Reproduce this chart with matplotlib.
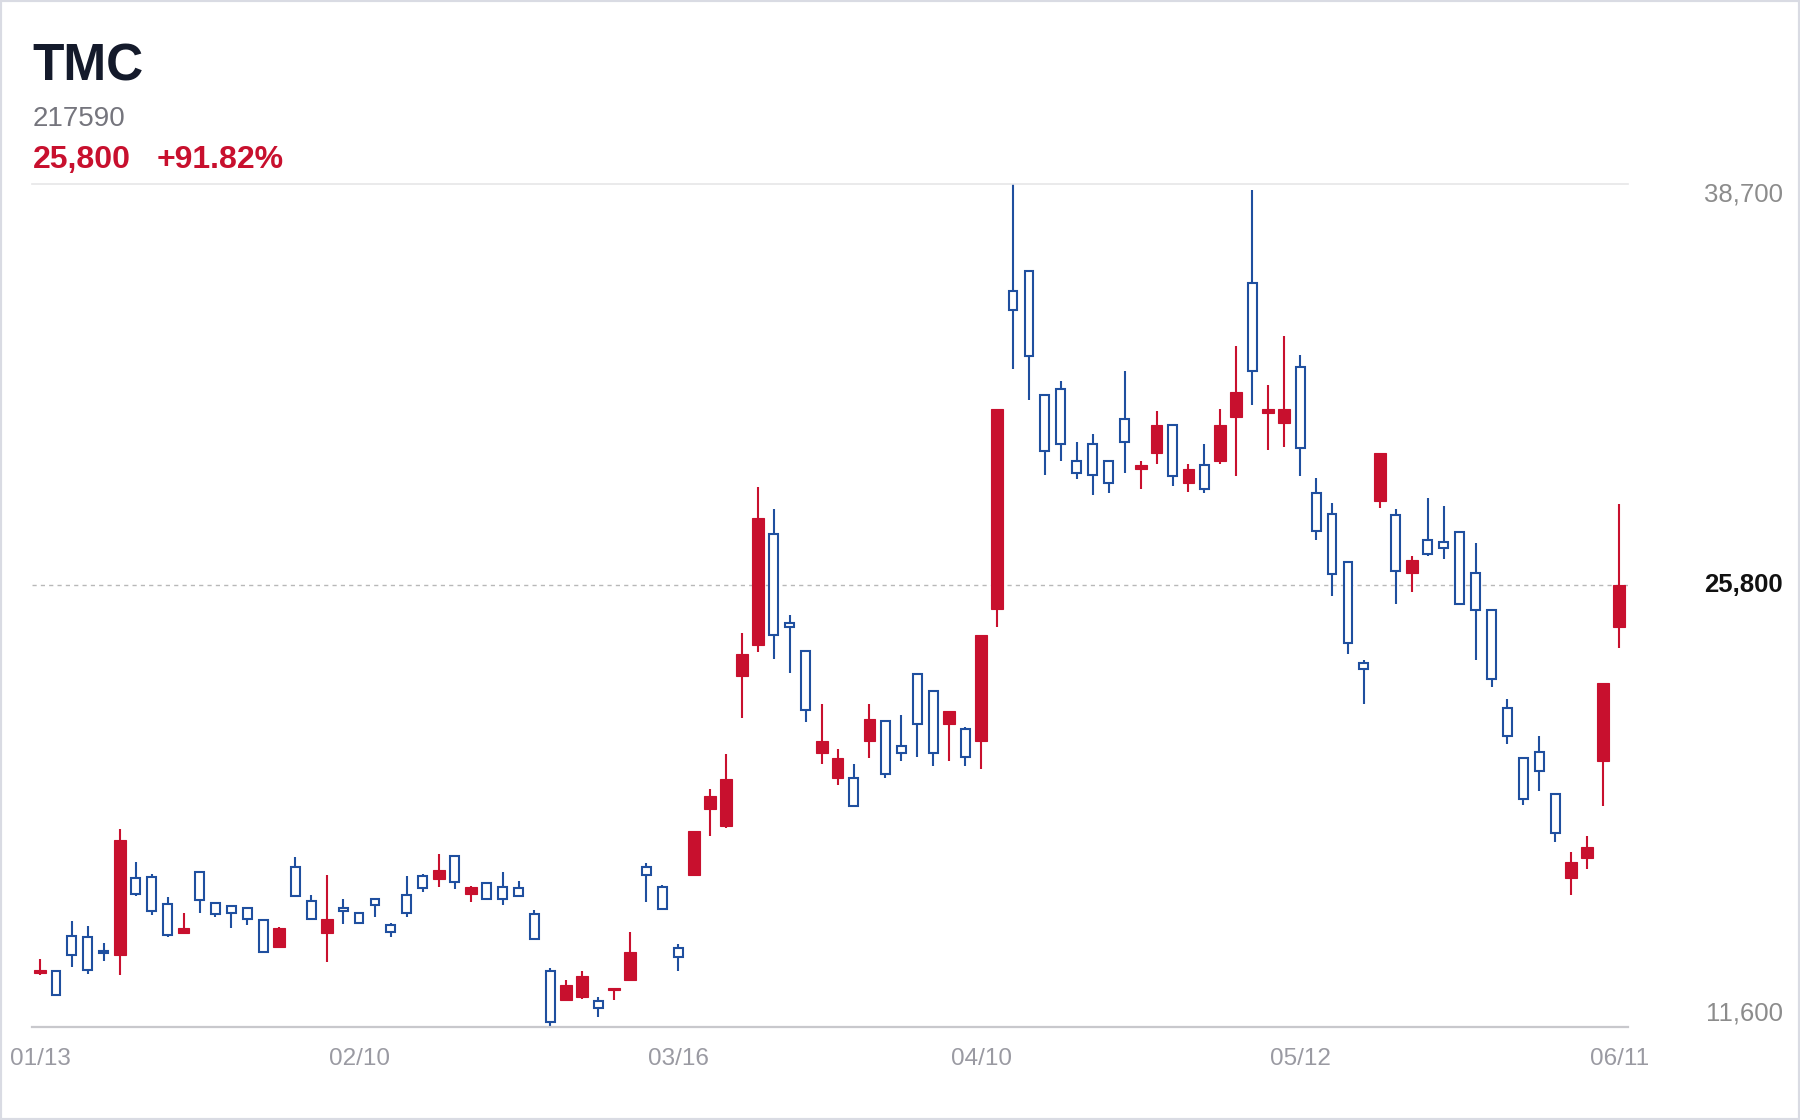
"""Daily candlestick chart for TMC (217590)."""
import matplotlib
matplotlib.use("Agg")
import matplotlib.pyplot as plt
from matplotlib.patches import Rectangle

plt.rcParams["font.family"] = ["Liberation Sans", "DejaVu Sans"]

name = "TMC"
code = "217590"
last_price = "25,800"
change_pct = "+91.82%"

tick_index = [0, 20, 40, 59, 79, 99]
tick_labels = ["01/13", "02/10", "03/16", "04/10", "05/12", "06/11"]

y_min, y_max, y_last = 11600, 38700, 25800

opens = [
    13350, 13420, 14540, 14500, 14070, 13930, 16410, 16420, 15550, 14630,
    16580, 15610, 15490, 15430, 15040, 14200, 16740, 15670, 14630, 15430,
    15270, 15720, 14900, 15860, 16450, 16360, 17110, 15880, 16240, 16110,
    16080, 15240, 13430, 12490, 12570, 12450, 12790, 13130, 16760, 16120,
    14150, 16500, 18610, 18070, 22900, 23900, 27450, 24600, 23700, 20400,
    19600, 19600, 20800, 21450, 20650, 22950, 22400, 21350, 21200, 20800,
    25050, 35250, 35900, 31900, 32100, 29800, 30350, 29800, 31150, 29550,
    30050, 30950, 29100, 29650, 29800, 31200, 35500, 31350, 31000, 32800,
    28750, 28100, 26550, 23300, 28500, 28050, 26200, 27250, 27200, 27500,
    26200, 25000, 21850, 20250, 20450, 19100, 16400, 17050, 20150, 24450,
]
highs = [
    13800, 13420, 15030, 14870, 14310, 17970, 16900, 16540, 15790, 15270,
    16580, 15610, 15490, 15470, 15080, 14820, 17090, 15860, 16500, 15730,
    15270, 15720, 14970, 16450, 16540, 17180, 17150, 16150, 16270, 16590,
    16290, 15380, 13510, 13130, 13430, 12580, 12870, 14660, 16870, 16170,
    14270, 17920, 19270, 20380, 24280, 28950, 28250, 24850, 23700, 22000,
    20550, 20050, 22000, 21450, 21650, 22950, 22400, 21750, 21250, 24200,
    31450, 38700, 35900, 31900, 32350, 30400, 30650, 29800, 32700, 29800,
    31400, 30950, 29700, 30350, 31450, 33500, 38500, 32250, 33800, 33200,
    29250, 28450, 26550, 23400, 30050, 28250, 26750, 28600, 28350, 27500,
    27150, 25000, 22150, 20300, 20950, 19100, 17250, 17750, 22650, 28400,
]
lows = [
    13300, 12650, 13540, 13320, 13750, 13290, 15810, 15220, 14520, 14600,
    15290, 15140, 14790, 14900, 14020, 14200, 15810, 15060, 13690, 14920,
    14970, 15140, 14500, 15140, 15940, 16110, 16040, 15620, 15740, 15530,
    15830, 14420, 11600, 12490, 12510, 11930, 12490, 13130, 15620, 15400,
    13410, 16500, 17740, 18020, 21550, 23650, 23450, 23000, 21400, 20050,
    19400, 18700, 20250, 19600, 20150, 20300, 20000, 20150, 20000, 19900,
    24450, 32750, 31750, 29350, 29800, 29200, 28700, 28750, 29400, 28900,
    29700, 29000, 28800, 28750, 29700, 29300, 31600, 30150, 30250, 29300,
    27250, 25450, 23600, 22000, 28300, 25200, 25600, 26750, 26650, 25200,
    23400, 22550, 20700, 18750, 19200, 17550, 15850, 16700, 18700, 23800,
]
closes = [
    13450, 12650, 13930, 13450, 13990, 17630, 15890, 15350, 14580, 14790,
    15680, 15250, 15290, 15080, 14020, 14790, 15810, 15090, 15080, 15330,
    14970, 15540, 14680, 15290, 16080, 16660, 16270, 16100, 15740, 15740,
    15830, 14440, 11790, 12970, 13240, 12210, 12860, 14020, 16500, 15400,
    13870, 17920, 19030, 19570, 23580, 27950, 24200, 24450, 21800, 20800,
    20250, 18700, 21500, 19750, 20400, 21350, 20400, 21750, 20300, 24200,
    31450, 34650, 33150, 30100, 30350, 29400, 29350, 29100, 30400, 29650,
    30950, 29300, 29550, 28900, 30950, 32000, 32700, 31450, 31450, 30200,
    27550, 26150, 23950, 23100, 30050, 26250, 26600, 26800, 27000, 25200,
    25000, 22800, 20950, 18950, 19850, 17850, 16900, 17400, 22650, 25800,
]

RED = "#c8102e"
BLUE = "#1f4f9f"

fig = plt.figure(figsize=(18, 11.2), dpi=100)
ax = fig.add_axes([0.0178, 0.0826, 0.8866, 0.7534])

for i, (o, h, l, c) in enumerate(zip(opens, highs, lows, closes)):
    up = c >= o
    color = RED if up else BLUE
    ax.vlines(i, l, h, color=color, linewidth=1.5, zorder=2)
    if up:
        ax.bar(i, c - o, bottom=o, width=0.74, color=RED, edgecolor=RED,
               linewidth=0.8, zorder=3)
    else:
        ax.bar(i, o - c, bottom=c, width=0.56, facecolor="white", edgecolor=BLUE,
               linewidth=1.5, zorder=3)

ax.axhline(y_last, color="#b8b8b8", linewidth=1.0, linestyle=(0, (3, 3)), zorder=1)

ax.set_xlim(-0.5, len(closes) - 0.45)
ax.set_ylim(y_min, y_max)
ax.set_yticks([])
ax.set_xticks(tick_index, tick_labels)
ax.tick_params(axis="x", length=0, pad=15, labelsize=17.5, labelcolor="#9a9aa2")
for side in ("left", "right"):
    ax.spines[side].set_visible(False)
ax.spines["top"].set_color("#e6e6e8")
ax.spines["top"].set_linewidth(1.2)
ax.spines["bottom"].set_color("#c8c8cc")
ax.spines["bottom"].set_linewidth(1.6)

# price labels on the right
for value, offset, color, weight in [
    (y_max, -7.5, "#8c8c8c", "normal"),
    (y_last, 0, "#111111", "bold"),
    (y_min, 10, "#8c8c8c", "normal"),
]:
    ax.annotate(f"{value:,}", xy=(0.9906, value), xycoords=("figure fraction", "data"),
                xytext=(0, offset), textcoords="offset points",
                ha="right", va="center", fontsize=18.5, color=color, fontweight=weight)

# header
fig.text(0.0178, 0.9277, name, fontsize=37, fontweight="bold", color="#141a2b", va="baseline")
fig.text(0.0180, 0.8875, code, fontsize=20, color="#75757d", va="baseline")
fig.text(0.0180, 0.85, last_price, fontsize=23, fontweight="bold", color=RED, va="baseline")
fig.text(0.0870, 0.85, change_pct, fontsize=23, fontweight="bold", color=RED, va="baseline")

fig.patches.append(Rectangle((0, 0), 1, 1, transform=fig.transFigure, fill=False,
                             edgecolor="#d9dbe3", linewidth=3))

fig.savefig("out.png", dpi=100)
